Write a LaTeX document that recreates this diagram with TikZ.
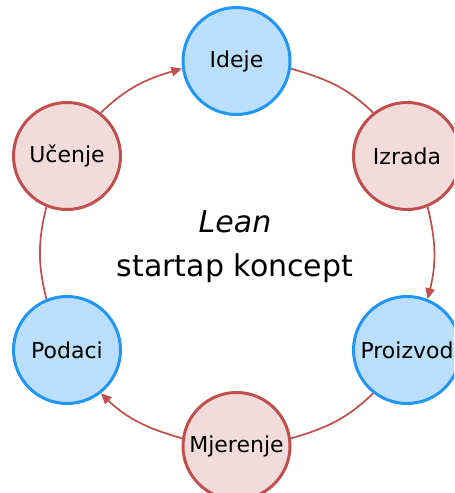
\documentclass[tikz,border=0pt]{standalone}
\usepackage{fontspec}
\setmainfont{DejaVu Sans}
\usetikzlibrary{arrows.meta}
\definecolor{bluefill}{HTML}{BBDEFB}
\definecolor{blueline}{HTML}{2196F3}
\definecolor{pinkfill}{HTML}{F2DCDB}
\definecolor{redline}{HTML}{C0504D}
\begin{document}
\begin{tikzpicture}[x=0.75pt,y=0.75pt,
  stage/.style={circle, minimum size=80.25pt, inner sep=0pt, line width=2.25pt, font=\fontsize{16.5}{20}\selectfont},
  bluestage/.style={stage, draw=blueline, fill=bluefill},
  pinkstage/.style={stage, draw=redline, fill=pinkfill},
  link/.style={draw=redline, line width=1.3pt},
  tip/.style={-{Triangle[length=8pt,width=7pt]}}]
\useasboundingbox (0,0) rectangle (454,-493);
\clip (0,0) rectangle (454,-493);
\node[bluestage] (ideje) at (236.5,-61) {Ideje};
\node[pinkstage] (izrada) at (407,-156) {Izrada};
\node[bluestage] (proizvod) at (407,-350) {Proizvod};
\node[pinkstage] (mjerenje) at (236.5,-446) {Mjerenje};
\node[bluestage] (podaci) at (67,-350) {Podaci};
\node[pinkstage] (ucenje) at (67,-156) {Učenje};
\node[align=center, font=\fontsize{22.5}{33}\selectfont] (title) at (235,-247) {\itshape Lean\\startap koncept};
\draw[link] (ideje.-8) to[out=-16, in=136] (izrada.128);
\draw[link, tip] (izrada.-68) to[out=-76, in=76] (proizvod.68);
\draw[link] (proizvod.-128) to[out=-136, in=16] (mjerenje.8);
\draw[link, tip] (mjerenje.172) to[out=164, in=-44] (podaci.-52);
\draw[link] (podaci.112) to[out=104, in=-104] (ucenje.-112);
\draw[link, tip] (ucenje.52) to[out=44, in=-164] (ideje.-172);
\end{tikzpicture}
\end{document}
